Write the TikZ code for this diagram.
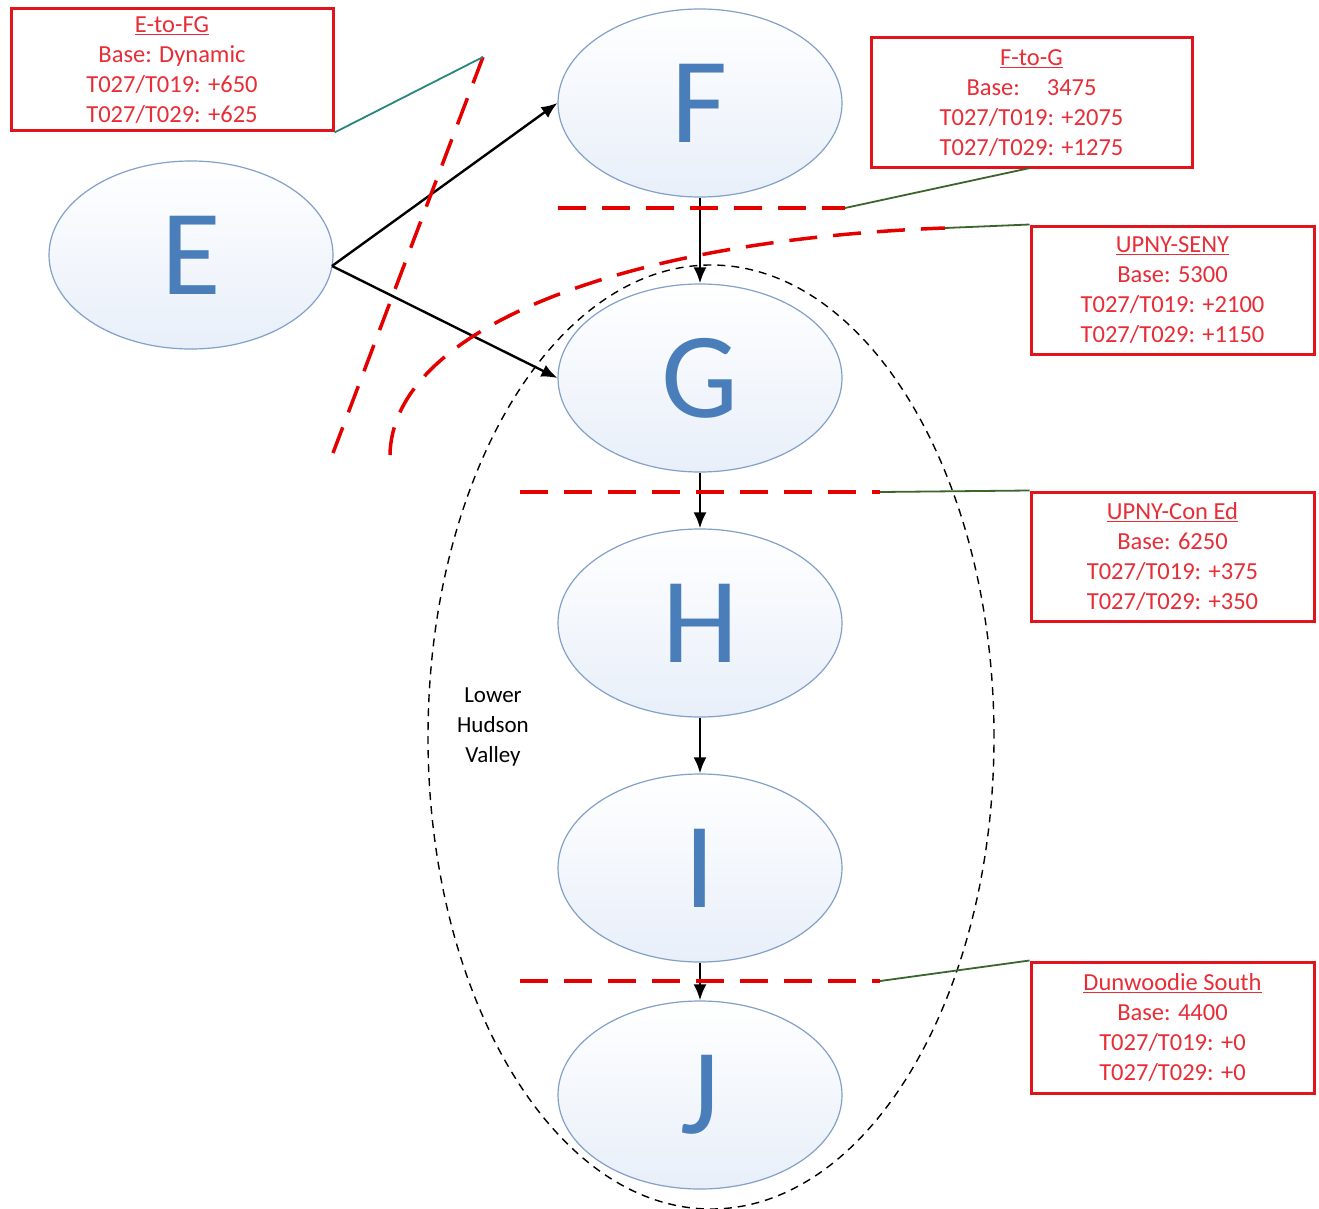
\documentclass[tikz,border=0pt]{standalone}
\usepackage{fontspec}
\setmainfont{Carlito}
\usetikzlibrary{shapes.geometric,arrows.meta}
\definecolor{zoneblue}{RGB}{74,126,187}
\definecolor{zoneedge}{RGB}{130,160,200}
\definecolor{zonefill}{RGB}{232,239,249}
\definecolor{boxred}{RGB}{225,20,30}
\definecolor{txtred}{RGB}{232,45,55}
\definecolor{leadgreen}{RGB}{60,100,45}
\definecolor{leadteal}{RGB}{40,135,125}
\tikzset{
  zone/.style={ellipse, draw=zoneedge, line width=1.2pt, top color=white, bottom color=zonefill,
    minimum width=284pt, minimum height=188pt, inner sep=0pt, text=zoneblue,
    font=\fontsize{122}{122}\selectfont},
  infobox/.style={draw=boxred, line width=3pt, fill=white, text=txtred, align=center,
    inner sep=0pt, font=\fontsize{24.5}{30}\selectfont},
  flow/.style={line width=2.4pt, -{Latex[length=16pt,width=13pt]}},
  cut/.style={draw=red!90!black, line width=3.5pt, dash pattern=on 28pt off 16pt},
  leader/.style={draw=leadgreen, line width=1.8pt},
  region/.style={ellipse, draw=black, line width=1.4pt, dash pattern=on 8pt off 6pt,
    minimum width=566pt, minimum height=944pt, inner sep=0pt}
}
\begin{document}
\begin{tikzpicture}[x=1pt,y=-1pt]
\useasboundingbox[fill=white] (0,0) rectangle (1319,1209);

% zone ellipses
\node[zone] (E) at (191,255) {E};
\node[zone] (F) at (700,103) {F};
\node[zone] (G) at (700,378) {G};
\node[zone] (H) at (700,623) {H};
\node[zone] (I) at (700,868) {I};
\node[zone] (J) at (700,1095) {J};

% Lower Hudson Valley region
\node[region] (lhv) at (711,737) {};
\node[align=center, font=\fontsize{23}{30}\selectfont] (lhvtext) at (493,727) {Lower\\Hudson\\Valley};

% flow arrows
\coordinate (Eout) at (332,266);
\draw[flow] (Eout) -- (F.west);
\draw[flow] (Eout) -- (G.west);
\draw[flow] (F.south) -- (G.north);
\draw[flow] (G.south) -- (H.north);
\draw[flow] (H.south) -- (I.north);
\draw[flow] (I.south) -- (J.north);

% info boxes
\node[infobox, minimum width=322pt, minimum height=122pt] (b1) at (172,70)
  {\underline{E-to-FG}\\Base: Dynamic\\T027/T019: +650\\T027/T029: +625};
\node[infobox, minimum width=321pt, minimum height=130pt] (b2) at (1031.5,103)
  {\underline{F-to-G}\\Base:\hspace{1.1em}3475\\T027/T019: +2075\\T027/T029: +1275};
\node[infobox, minimum width=283pt, minimum height=128pt] (b3) at (1172.5,290)
  {\underline{UPNY-SENY}\\Base: 5300\\T027/T019: +2100\\T027/T029: +1150};
\node[infobox, minimum width=283pt, minimum height=129pt] (b4) at (1172.5,556.5)
  {\underline{UPNY-Con Ed}\\Base: 6250\\T027/T019: +375\\T027/T029: +350};
\node[infobox, minimum width=283pt, minimum height=131pt] (b5) at (1172.5,1027.5)
  {\underline{Dunwoodie South}\\Base: 4400\\T027/T019: +0\\T027/T029: +0};

% interface cut lines
\coordinate (c1a) at (483,57);
\coordinate (c1b) at (333,453);
\draw[cut] (c1a) -- (c1b);

\coordinate (c2a) at (558,208);
\coordinate (c2b) at (845,208);
\draw[cut] (c2a) -- (c2b);

\coordinate (c3a) at (390,455);
\coordinate (c3b) at (945,228);
\draw[cut] (c3a) .. controls (392,330) and (620,240) .. (c3b);

\coordinate (c4a) at (520,492);
\coordinate (c4b) at (880,492);
\draw[cut] (c4a) -- (c4b);

\coordinate (c5a) at (520,981);
\coordinate (c5b) at (880,981);
\draw[cut] (c5a) -- (c5b);

% leader lines
\draw[leader, draw=leadteal] (b1.south east) -- (c1a);
\draw[leader] (c2b) -- (1030,168);
\draw[leader] (c3b) -- (b3.north west);
\draw[leader] (c4b) -- (b4.north west);
\draw[leader] (c5b) -- (b5.north west);
\end{tikzpicture}
\end{document}
